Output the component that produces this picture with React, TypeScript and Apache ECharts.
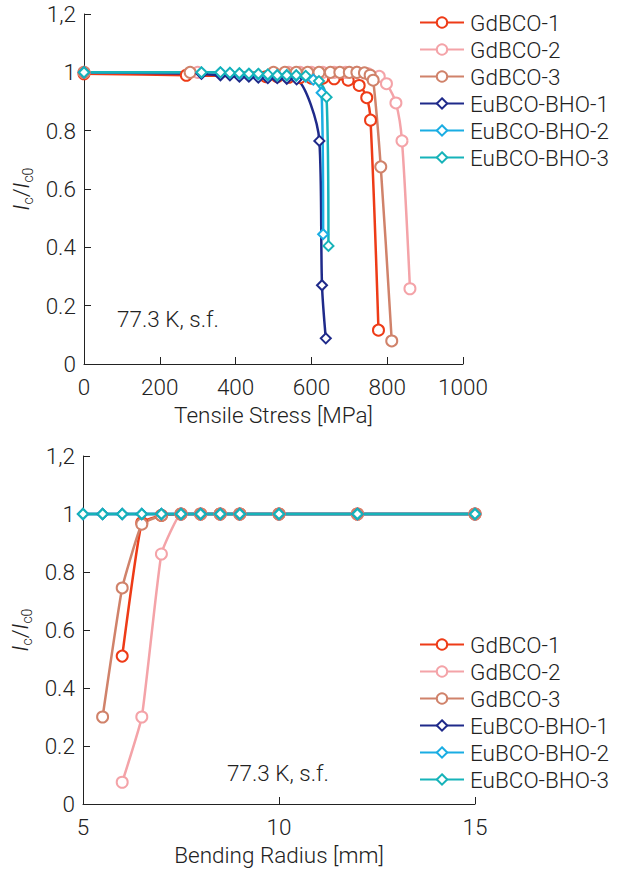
import React, { useEffect, useRef } from 'react';
import * as echarts from 'echarts';

const SERIES_NAMES = ['GdBCO-1', 'GdBCO-2', 'GdBCO-3', 'EuBCO-BHO-1', 'EuBCO-BHO-2', 'EuBCO-BHO-3'];
const COLORS = ['#EE3B17', '#F4A3A8', '#D0826A', '#1F2A8A', '#1AADE3', '#16B3B9'];
const SYMBOLS = ['emptyCircle', 'emptyCircle', 'emptyCircle', 'emptyDiamond', 'emptyDiamond', 'emptyDiamond'];

// ---- Tensile stress (MPa) vs Ic/Ic0 ----
const stressGd1 = [0, 270, 480, 510, 540, 570, 600, 630, 660, 697, 726, 746, 756, 777];
const tensIcGd1 = [0.995, 0.99, 0.985, 0.985, 0.983, 0.982, 0.98, 0.98, 0.978, 0.973, 0.955, 0.913, 0.836, 0.116];
const stressGd2 = [0, 300, 540, 570, 600, 630, 660, 690, 720, 750, 779, 798, 823, 839, 860];
const tensIcGd2 = [1, 1, 1, 1, 1, 1, 1, 1, 1, 0.995, 0.986, 0.961, 0.895, 0.765, 0.258];
const stressGd3 = [0, 280, 500, 530, 560, 590, 620, 650, 675, 700, 720, 740, 755, 763, 783, 812];
const tensIcGd3 = [1, 1, 1, 1, 1, 1, 1, 1, 1, 1, 1, 0.998, 0.99, 0.973, 0.676, 0.079];
const stressEu1 = [0, 310, 360, 385, 410, 435, 460, 485, 510, 535, 561, 621, 628, 638];
const tensIcEu1 = [1, 0.995, 0.99, 0.99, 0.985, 0.985, 0.982, 0.98, 0.98, 0.978, 0.976, 0.765, 0.27, 0.088];
const stressEu2 = [0, 310, 360, 385, 410, 435, 460, 485, 510, 535, 560, 585, 605, 627, 631];
const tensIcEu2 = [1, 1, 1, 0.998, 0.995, 0.995, 0.993, 0.99, 0.99, 0.99, 0.988, 0.985, 0.975, 0.93, 0.445];
const stressEu3 = [0, 310, 360, 385, 410, 435, 460, 485, 510, 535, 560, 585, 620, 640, 645];
const tensIcEu3 = [1, 1, 1, 0.998, 0.997, 0.995, 0.995, 0.993, 0.99, 0.99, 0.99, 0.988, 0.97, 0.915, 0.405];

// ---- Bending radius (mm) vs Ic/Ic0 ----
const radiusGd1 = [6, 6.5, 7, 7.5, 8, 8.5, 9, 10, 12, 15];
const bendIcGd1 = [0.51, 0.97, 0.995, 1, 1, 1, 1, 1, 1, 1];
const radiusGd2 = [6, 6.5, 7, 7.5, 8, 8.5, 9, 10, 12, 15];
const bendIcGd2 = [0.075, 0.3, 0.862, 1, 1, 1, 1, 1, 1, 1];
const radiusGd3 = [5.5, 6, 6.5, 7, 7.5, 8, 8.5, 9, 10, 12, 15];
const bendIcGd3 = [0.3, 0.745, 0.965, 0.995, 1, 1, 1, 1, 1, 1, 1];
const radiusEu = [5, 5.5, 6, 6.5, 7, 7.5, 8, 8.5, 9, 10, 12, 15];
const bendIcEu1 = [1, 1, 1, 1, 1, 1, 1, 1, 1, 1, 1, 1];
const bendIcEu2 = [1, 1, 1, 1, 1, 1, 1, 1, 1, 1, 1, 1];
const bendIcEu3 = [1, 1, 1, 1, 1, 1, 1, 1, 1, 1, 1, 1];

const tensileXs = [stressGd1, stressGd2, stressGd3, stressEu1, stressEu2, stressEu3];
const tensileYs = [tensIcGd1, tensIcGd2, tensIcGd3, tensIcEu1, tensIcEu2, tensIcEu3];
const bendXs = [radiusGd1, radiusGd2, radiusGd3, radiusEu, radiusEu, radiusEu];
const bendYs = [bendIcGd1, bendIcGd2, bendIcGd3, bendIcEu1, bendIcEu2, bendIcEu3];

const FONT = 'Roboto';
const FW = 300;
const FS = 22.5;
const TXT = '#222';

function makeSeries(idx: number, xs: number[], ys: number[], axis: number) {
  const color = COLORS[idx];
  return {
    name: SERIES_NAMES[idx],
    type: 'line',
    xAxisIndex: axis,
    yAxisIndex: axis,
    data: xs.map((x, i) => [x, ys[i]]),
    symbol: SYMBOLS[idx],
    symbolSize: idx < 3 ? 11 : 10,
    showAllSymbol: true,
    smooth: axis === 0 ? 0.3 : 0.12,
    lineStyle: { width: 2.5, color },
    itemStyle: { color, borderWidth: 1.5 },
  };
}

function yAxis(gridIndex: number) {
  return {
    type: 'value',
    gridIndex,
    min: 0,
    max: 1.2,
    interval: 0.2,
    name: '{i|I}{s|c}{n|/}{i|I}{s|c0}',
    nameLocation: 'middle',
    nameRotate: 90,
    nameGap: 23,
    nameTextStyle: {
      rich: {
        i: { fontSize: FS, fontStyle: 'italic', fontFamily: FONT, fontWeight: FW, color: TXT, lineHeight: 20, verticalAlign: 'top' },
        n: { fontSize: FS, fontFamily: FONT, fontWeight: FW, color: TXT, lineHeight: 20, verticalAlign: 'top' },
        s: { fontSize: 14, fontFamily: FONT, fontWeight: FW, color: TXT, lineHeight: 25, verticalAlign: 'bottom' },
      },
    },
    axisLine: { show: true, lineStyle: { color: '#222', width: 1 } },
    axisTick: { show: true, inside: true, length: 7, lineStyle: { color: '#222' } },
    splitLine: { show: false },
    axisLabel: {
      margin: 8,
      fontSize: FS,
      fontFamily: FONT,
      fontWeight: FW,
      color: TXT,
      formatter: (v: number) => {
        const r = Math.round(v * 10) / 10;
        if (r === 1.2) return '1,2';
        if (r === 1 || r === 0) return String(r);
        return r.toFixed(1);
      },
    },
  };
}

function xAxis(gridIndex: number, min: number, max: number, interval: number, name: string) {
  return {
    type: 'value',
    gridIndex,
    min,
    max,
    interval,
    name,
    nameLocation: 'middle',
    nameGap: 39,
    nameTextStyle: { fontSize: FS, fontFamily: FONT, fontWeight: FW, color: TXT },
    axisLine: { show: true, lineStyle: { color: '#222', width: 1 } },
    axisTick: { show: true, inside: true, length: 7, lineStyle: { color: '#222' } },
    splitLine: { show: false },
    axisLabel: {
      margin: 11,
      fontSize: FS,
      fontFamily: FONT,
      fontWeight: FW,
      color: TXT,
      formatter: (v: number) => String(v),
    },
  };
}

function legend(top: number) {
  return {
    top,
    left: 414,
    orient: 'vertical',
    itemWidth: 44,
    itemHeight: 13,
    itemGap: 4,
    selectedMode: false,
    data: SERIES_NAMES,
    textStyle: { fontSize: FS, lineHeight: 22, padding: [0, 0, 0, 1], color: TXT, fontFamily: FONT, fontWeight: FW },
  };
}

export default function App() {
  const ref = useRef<HTMLDivElement>(null);
  useEffect(() => {
    if (!ref.current) return;
    const chart = echarts.init(ref.current, undefined, { renderer: 'svg' });
    const series: any[] = [];
    for (let i = 0; i < 6; i++) series.push(makeSeries(i, tensileXs[i], tensileYs[i], 0));
    for (let i = 0; i < 6; i++) series.push(makeSeries(i, bendXs[i], bendYs[i], 1));
    chart.setOption({
      animation: false,
      backgroundColor: '#fff',
      grid: [
        { left: 84, top: 14, width: 379, height: 350 },
        { left: 83, top: 456, width: 392, height: 348 },
      ],
      xAxis: [
        xAxis(0, 0, 1000, 200, 'Tensile Stress [MPa]'),
        xAxis(1, 5, 15, 5, 'Bending Radius [mm]'),
      ],
      yAxis: [yAxis(0), yAxis(1)],
      legend: [legend(6), legend(628)],
      graphic: [
        { type: 'text', left: 117, top: 307, style: { text: '77.3 K, s.f.', fontSize: FS, fontFamily: FONT, fontWeight: FW, fill: TXT } },
        { type: 'text', left: 227, top: 761, style: { text: '77.3 K, s.f.', fontSize: FS, fontFamily: FONT, fontWeight: FW, fill: TXT } },
      ],
      series,
    });
    return () => chart.dispose();
  }, []);
  return <div ref={ref} style={{ position: 'absolute', left: 0, top: 0, width: 624, height: 870 }} />;
}
